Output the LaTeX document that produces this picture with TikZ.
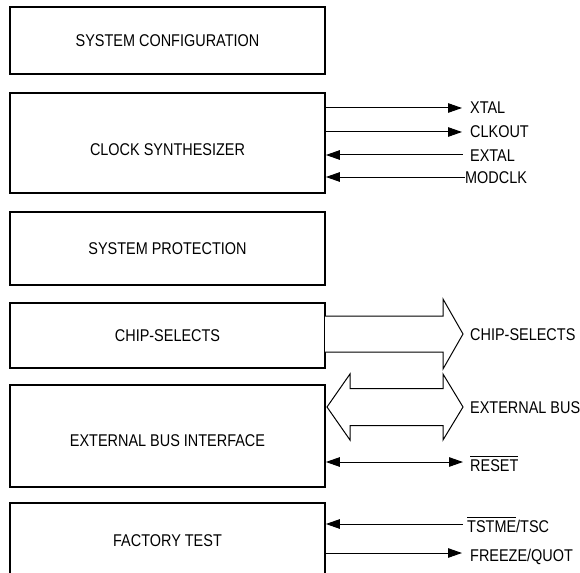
\documentclass[tikz,border=0pt]{standalone}
\usepackage{fontspec}
\setmainfont{Liberation Sans}[FakeStretch=0.85]
\usetikzlibrary{arrows.meta}
\newcommand{\ovbar}[1]{\vbox{\hrule height 0.8pt\kern 2pt\hbox{#1}}}
\tikzset{
  blk/.style={draw, line width=1.7pt, minimum width=315pt, inner sep=0pt,
              font=\fontsize{17}{20}\selectfont},
  txt/.style={inner sep=0pt, font=\fontsize{17}{20}\selectfont,
              text height=12pt, text depth=0pt},
  tip/.tip={Triangle[length=14pt,width=9.5pt]},
  sigout/.style={line width=1pt, -tip},
  sigin/.style={line width=1pt, tip-},
  sigbi/.style={line width=1pt, tip-tip},
  bigarrow/.style={draw, line width=1pt, fill=white, line join=miter},
}
\begin{document}
\begin{tikzpicture}[x=1pt,y=-1pt]
\clip (0,0) rectangle (580,572);
\fill[white] (0,0) rectangle (580,572);

% boxes
\node[blk, minimum height=67pt] (sc) at (167.5,40.5) {SYSTEM CONFIGURATION};
\node[blk, minimum height=100pt] (cs) at (167.5,143) {};
\node[txt] (cst) at (167.5,150) {CLOCK SYNTHESIZER};
\node[blk, minimum height=73pt] (sp) at (167.5,248.5) {SYSTEM PROTECTION};
\node[blk, minimum height=65pt] (chs) at (167.5,335.5) {CHIP-SELECTS};
\node[blk, minimum height=102pt] (ebi) at (167.5,436) {};
\node[txt] (ebit) at (167.5,440) {EXTERNAL BUS INTERFACE};
\node[blk, minimum height=100pt] (ft) at (167.5,553) {};
\node[txt] (ftt) at (167.5,540) {FACTORY TEST};

% labels
\node[txt, anchor=west] (xtal)   at (470,108) {XTAL};
\node[txt, anchor=west] (clkout) at (470,132) {CLKOUT};
\node[txt, anchor=west] (extal)  at (470,155) {EXTAL};
\node[txt, anchor=west] (modclk) at (465,177) {MODCLK};
\node[txt, anchor=west] (csl)    at (470,334) {CHIP-SELECTS};
\node[txt, anchor=west] (ebus)   at (470,407) {EXTERNAL BUS};
\node[txt, anchor=west] (reset)  at (470,465) {\ovbar{RESET}};
\node[txt, anchor=west] (tstme)  at (467,526) {\ovbar{TSTME}/TSC};
\node[txt, anchor=west] (freeze) at (470,555) {FREEZE/QUOT};

% clock signals
\draw[sigout] (cs.east |- xtal) -- ([xshift=-8pt]xtal.west);
\draw[sigout] (cs.east |- clkout) -- ([xshift=-8pt]clkout.west);
\draw[sigin]  (cs.east |- extal) -- ([xshift=-7pt]extal.west);
\draw[sigin]  (cs.east |- modclk) -- (modclk.west);

% chip-selects block arrow
\draw[bigarrow] (325,316) -- (443,316) -- (443,299) -- (463,334)
   -- (443,369) -- (443,352) -- (325,352);

% external bus double block arrow
\draw[bigarrow] (327,407) -- (350,374) -- (350,388.5) -- (443,388.5)
   -- (443,374) -- (463,407) -- (443,440) -- (443,425.5) -- (350,425.5)
   -- (350,440) -- cycle;

% reset
\draw[sigbi] (ebi.east |- 0,462) -- ([xshift=-7pt]reset.west |- 0,462);

% factory test signals
\draw[sigin]  (ft.east |- 0,524) -- ([xshift=-4pt]tstme.west |- 0,524);
\draw[sigout] (ft.east |- 0,553) -- ([xshift=-8pt]freeze.west |- 0,553);
\end{tikzpicture}
\end{document}
